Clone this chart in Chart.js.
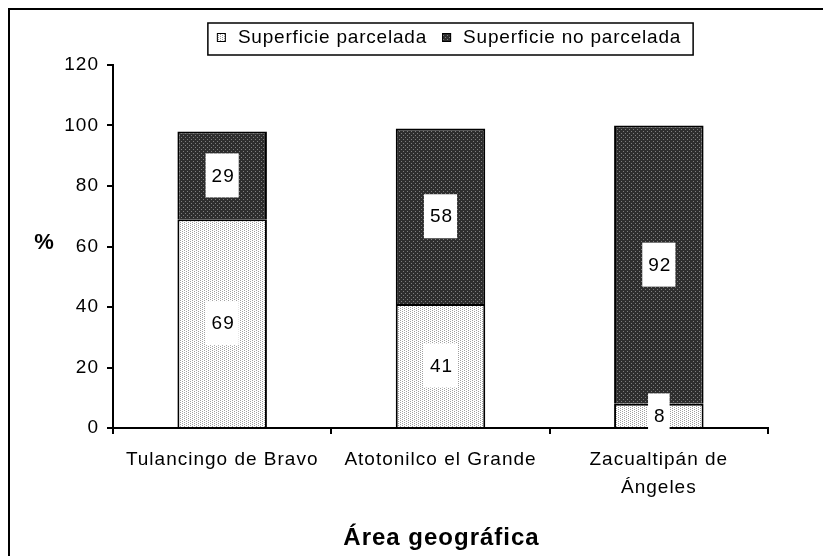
<!DOCTYPE html>
<html>
<head>
<meta charset="utf-8">
<script src="https://cdn.jsdelivr.net/npm/chart.js@4"></script>
<style>
  html, body { margin: 0; padding: 0; background: #fff; }
  #wrap { width: 823px; height: 556px; }
</style>
</head>
<body>
<div id="wrap"><canvas id="chart" width="823" height="556"></canvas></div>
<script>
// data
const categories = [['Tulancingo de Bravo'], ['Atotonilco el Grande'], ['Zacualtipán de', 'Ángeles']];
const parcelada = [69, 41, 8];
const noParcelada = [29, 58, 92];
const seriesNames = ['Superficie parcelada', 'Superficie no parcelada'];
const yMax = 120;
const yStep = 20;

const FONT = '"Liberation Sans", Arial, sans-serif';

// small stipple patterns like the excel fills
function makePattern(bg, dot, dots) {
    var c = document.createElement('canvas');
    c.width = 4; c.height = 4;
    var g = c.getContext('2d');
    g.fillStyle = bg;
    g.fillRect(0, 0, 4, 4);
    g.fillStyle = dot;
    dots.forEach(function(p) { g.fillRect(p[0], p[1], 1, 1); });
    return document.getElementById('chart').getContext('2d').createPattern(c, 'repeat');
}
var lightFill = makePattern('#ffffff', '#a0a0a0', [[0, 0], [2, 1], [0, 2], [2, 3]]);
var darkFill = makePattern('#2e2e2e', '#7e7e7e', [[1, 1], [3, 3]]);

// excel text looks a bit spaced out
const spacing = {
    id: 'spacing',
    beforeUpdate(chart) { chart.ctx.letterSpacing = '1px'; },
    beforeLayout(chart) { chart.ctx.letterSpacing = '1px'; },
    beforeDraw(chart) { chart.ctx.letterSpacing = '1px'; }
};

// frame, legend box, axis titles
const decor = {
    id: 'decor',
    afterDraw(chart) {
        var ctx = chart.ctx;
        var area = chart.chartArea;
        ctx.save();
        ctx.strokeStyle = '#000';
        ctx.lineWidth = 2;
        ctx.strokeRect(9, 9, 900, 700);

        // legend
        ctx.font = '19px ' + FONT;
        ctx.letterSpacing = '0.8px';
        ctx.textBaseline = 'middle';
        var fills = [lightFill, darkFill];
        var widths = seriesNames.map(n => ctx.measureText(n).width);
        var sw = 9, gap = 12, itemGap = 15;
        var total = widths[0] + widths[1] + 2 * (sw + gap) + itemGap;
        var x = 449 - total / 2;
        var cy = 38;
        ctx.lineWidth = 1.5;
        ctx.strokeRect(x - 9, 23, total + 21, 32);
        seriesNames.forEach(function(name, i) {
            ctx.fillStyle = fills[i];
            ctx.fillRect(x, cy - 5, sw, sw);
            ctx.lineWidth = 1;
            ctx.strokeStyle = '#000';
            ctx.strokeRect(x + 0.5, cy - 4.5, sw - 1, sw - 1);
            ctx.fillStyle = '#000';
            ctx.textAlign = 'left';
            ctx.fillText(name, x + sw + gap, cy);
            x += sw + gap + widths[i] + itemGap;
        });

        // axis titles
        ctx.textAlign = 'center';
        ctx.font = 'bold 22px ' + FONT;
        ctx.letterSpacing = '0px';
        ctx.fillText('%', 44, 243);
        ctx.font = 'bold 24px ' + FONT;
        ctx.letterSpacing = '1px';
        ctx.fillText('Área geográfica', (area.left + area.right) / 2 + 1, 538);
        ctx.restore();
    }
};

// value labels in white boxes
const valueBoxes = {
    id: 'valueBoxes',
    afterDatasetsDraw(chart) {
        var ctx = chart.ctx;
        ctx.save();
        ctx.font = '19px ' + FONT;
        ctx.letterSpacing = '1px';
        ctx.textAlign = 'center';
        ctx.textBaseline = 'middle';
        chart.data.datasets.forEach(function(ds, i) {
            chart.getDatasetMeta(i).data.forEach(function(bar, j) {
                var p = bar.getProps(['x', 'y', 'base'], true);
                var cy = (p.y + p.base) / 2;
                var txt = String(ds.data[j]);
                var w = ctx.measureText(txt).width + 10;
                ctx.fillStyle = '#fff';
                ctx.fillRect(p.x - w / 2, cy - 22, w, 44);
                ctx.fillStyle = '#000';
                ctx.fillText(txt, p.x + 1, cy + 1);
            });
        });
        ctx.restore();
    }
};

var ctx = document.getElementById('chart').getContext('2d');
var myChart = new Chart(ctx, {
    type: 'bar',
    data: {
        labels: categories,
        datasets: [{
            label: seriesNames[0],
            data: parcelada,
            backgroundColor: lightFill,
            borderColor: '#000',
            borderWidth: 2,
            borderSkipped: 'start'
        },
        {
            label: seriesNames[1],
            data: noParcelada,
            backgroundColor: darkFill,
            borderColor: '#000',
            borderWidth: 2,
            borderSkipped: 'start'
        }]
    },
    options: {
        responsive: false,
        animation: false,
        layout: { padding: { top: 65, right: 55, left: 0, bottom: 0 } },
        datasets: { bar: { barPercentage: 0.41, categoryPercentage: 1 } },
        scales: {
            x: {
                stacked: true,
                ticks: { color: '#000', font: { family: FONT, size: 19, lineHeight: 1.45 }, padding: 12, maxRotation: 0, autoSkip: false },
                grid: { offset: true, drawOnChartArea: false, tickLength: 6, color: '#000', lineWidth: 2 },
                border: { color: '#000', width: 2 },
                afterFit: function(s) { s.height = 128; }
            },
            y: {
                stacked: true,
                min: 0,
                max: yMax,
                ticks: { stepSize: yStep, color: '#000', font: { family: FONT, size: 19 }, padding: 8 },
                grid: { drawOnChartArea: false, tickLength: 6, color: '#000', lineWidth: 2 },
                border: { color: '#000', width: 2 },
                afterFit: function(s) { s.width = 113; }
            }
        },
        plugins: {
            legend: { display: false },
            tooltip: { enabled: false },
            title: { display: false }
        }
    },
    plugins: [spacing, valueBoxes, decor]
});
</script>
</body>
</html>
